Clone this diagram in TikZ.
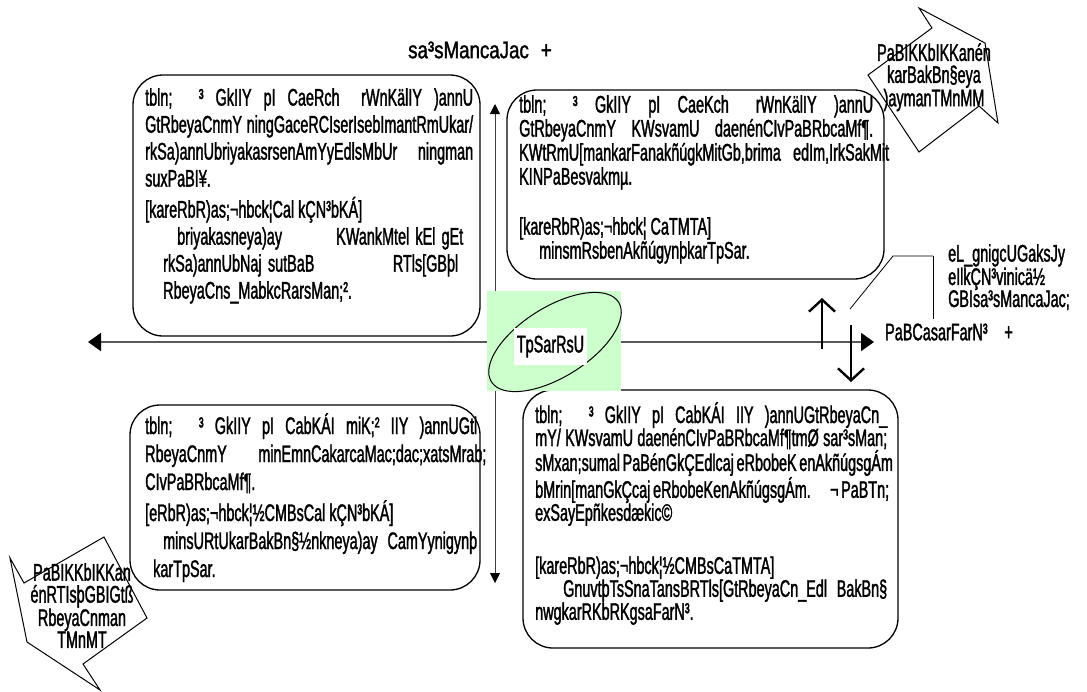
\documentclass[tikz,border=0pt]{standalone}
\usepackage{fontspec}
\setmainfont[FakeStretch=0.6,FakeBold=1.4]{Liberation Sans}
\newfontfamily\titlefont[FakeStretch=0.78,FakeBold=1.4]{Liberation Sans}
\newcommand\jl[2]{\makebox[#1pt][s]{#2}}
\usetikzlibrary{arrows.meta,shapes.geometric}
\begin{document}
\begin{tikzpicture}[x=1pt,y=-1pt,
  qbox/.style={draw, line width=1.3pt, rounded corners=30pt, inner sep=0},
  txt/.style={align=left, inner sep=0, anchor=north west},
  lbl/.style={inner sep=0, font=\fontsize{24}{27}\selectfont},
  axisline/.style={draw=black!65, line width=2pt},
  vaxisline/.style={draw=black!75, line width=1pt},
  pmarrow/.style={line width=2.4pt, -{Straight Barb[length=12pt,width=26pt]}},
  shapeline/.style={draw, line width=1pt, line join=miter},
  calline/.style={draw, line width=0.8pt}]
\useasboundingbox (0,0) rectangle (1087,691);

% axes
\coordinate (hl) at (88,342);
\coordinate (hr) at (874,342);
\coordinate (vt) at (495,104);
\coordinate (vb) at (495,583);
\draw[axisline, {Triangle[length=13pt,width=18pt,color=black]}-{Triangle[length=13pt,width=18pt,color=black]}] (hl) -- (hr);
\draw[vaxisline, {Triangle[length=10pt,width=10pt,color=black]}-{Triangle[length=10pt,width=10pt,color=black]}] (vt) -- (vb);

% title
\node[inner sep=0, font=\titlefont\fontsize{24}{27}\selectfont] (title) at (480,50) {sa³sMancaJac\hspace{0.5em}+};

% quadrant boxes
\node[qbox, minimum width=347pt, minimum height=261pt] (tl) at (306.5,205.5) {};
\node[qbox, minimum width=377pt, minimum height=189pt] (tr) at (695.5,184.5) {};
\node[qbox, minimum width=350pt, minimum height=185pt] (bl) at (305,497.5) {};
\node[qbox, minimum width=375pt, minimum height=258pt] (br) at (710.5,519) {};

\node[txt, font=\fontsize{24}{27}\selectfont] (tltext) at (145,88) {%
\jl{328}{tbln;\hspace{1.1em}³ GkIIY pI CaeRch\hspace{0.4em} rWnKälIY )annU}\\
\jl{328}{GtRbeyaCnmY ningGaceRCIserIsebImantRmUkar/}\\
\jl{328}{rkSa)annUbriyakasrsenAmYyEdlsMbUr\hspace{0.6em} ningman}\\
suxPaBI¥.\\[4pt]
{[}kareRbR)as;¬hbck¦Cal kÇN³bKÁ{]}\\
\hspace*{32pt}\jl{286}{briyakasneya)ay\hspace{2em} KWankMtel kEl gEt}\\
\hspace*{18pt}\jl{295}{rkSa)annUbNaj sutBaB\hspace{3em} RTls[GBþl}\\
\hspace*{18pt}RbeyaCns\_MabkcRarsMan;².};

\node[txt, font=\fontsize{24}{24}\selectfont] (trtext) at (519,95) {%
\jl{354}{tbln;\hspace{1.1em}³ GkIIY pI CaeKch\hspace{0.4em} rWnKälIY )annU}\\
\jl{354}{GtRbeyaCnmY KWsvamU daenénCIvPaBRbcaMf¶.}\\
\jl{354}{KWtRmU[mankarFanakñúgkMitGb,brima\hspace{0.4em} edIm,IrkSakMit}\\
KINPaBesvakmµ.\\[26pt]
{[}kareRbR)as;¬hbck¦ CaTMTA{]}\\
\hspace*{20pt}minsmRsbenAkñúgynþkarTpSar.};

\node[txt, font=\fontsize{24}{28}\selectfont] (bltext) at (145,413) {%
\jl{332}{tbln;\hspace{1.1em}³ GkIIY pI CabKÁI miK;² IIY )annUGtl}\\
\jl{332}{RbeyaCnmY\hspace{1.2em} minEmnCakarcaMac;dac;xatsMrab;}\\
CIvPaBRbcaMf¶.\\[3pt]
{[}eRbR)as;¬hbck¦½CMBsCal kÇN³bKÁ{]}\\
\hspace*{18pt}\jl{314}{minsURtUkarBakBn§½nkneya)ay CamYynigynþ}\\
\hspace*{8pt}karTpSar.};

\node[txt, font=\fontsize{24}{23}\selectfont] (brtext) at (535,402) {%
\jl{352}{tbln;\hspace{1.1em}³ GkIIY pI CabKÁI IIY )annUGtRbeyaCn\_}\\
\jl{352}{mY/ KWsvamU daenénCIvPaBRbcaMf¶tmØ sar³sMan;}\\
\jl{352}{sMxan;sumal PaBénGkÇEdlcaj eRbobeK enAkñúgsgÁm}\\
\jl{352}{bMrin[manGkÇcaj eRbobeKenAkñúgsgÁm.\hspace{0.6em} ¬ PaBTn;}\\
exSayEpñkesdækic©\\[30pt]
{[}kareRbR)as;¬hbck¦½CMBsCaTMTA{]}\\
\hspace*{28pt}\jl{324}{GnuvtþTsSnaTansBRTls[GtRbeyaCn\_Edl BakBn§}\\
nwgkarRKbRKgsaFarN³.};

% centre
\node[fill={rgb,255:red,204;green,255;blue,204}, minimum width=134pt, minimum height=100pt, inner sep=0] (green) at (554,341) {};
\node[draw, ellipse, line width=1pt, minimum width=150pt, minimum height=70pt, rotate=32, inner sep=0] (ell) at (555,342) {};
\node[fill=white, minimum width=73pt, minimum height=37pt, inner sep=0, font=\fontsize{24}{27}\selectfont] (centre) at (550.5,346.5) {TpSarRsU};

% right side
\node[lbl, anchor=west] (pub) at (885,332) {PaBCasarFarN³\hspace{0.7em}+};
\coordinate (upa) at (822,349);
\coordinate (upb) at (822,298);
\coordinate (dna) at (851,325);
\coordinate (dnb) at (851,382);
\draw[pmarrow] (upa) -- (upb);
\draw[pmarrow] (dna) -- (dnb);

% line callout
\node[txt, font=\fontsize{24}{22}\selectfont] (call) at (948,244) {%
eL\_gnigcUGaksJy\\
eIlkÇN³vinicä½\\
GBIsa³sMancaJac;};
\coordinate (cbt) at (933,256);
\coordinate (cbb) at (933,319);
\coordinate (ck) at (893,256);
\coordinate (cp) at (850,309);
\draw[calline] (cbt) -- (cbb);
\draw[calline] (cp) -- (ck) -- (cbt);

% arrow shapes
\draw[shapeline] (919,8) -- (932,28) -- (868,75) -- (919,152) -- (979,106) -- (998,123) -- (985,43) -- cycle;
\node[align=center, inner sep=0, anchor=north, font=\fontsize{24}{22}\selectfont] (trshape) at (934,43) {PaBIKKbIKKanén\\karBakBn§eya\\)aymanTMnMM};

\draw[shapeline] (10,558) -- (24,583) -- (104,537) -- (147,618) -- (83,664) -- (100,690) -- (27,642) -- cycle;
\node[align=center, inner sep=0, anchor=north, font=\fontsize{24}{22}\selectfont] (blshape) at (82,563) {PaBIKKbIKKan\\énRTIsþGBIGtß\\RbeyaCnman\\TMnMT};
\end{tikzpicture}
\end{document}
